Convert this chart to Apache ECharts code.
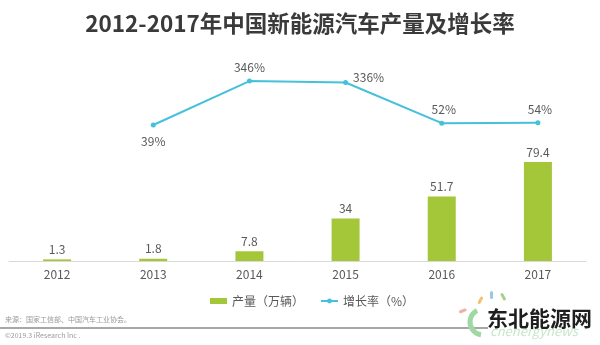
<!DOCTYPE html>
<html><head><meta charset="utf-8">
<script src="https://cdn.jsdelivr.net/npm/echarts@6/dist/echarts.min.js"></script>
<style>html,body{margin:0;padding:0;background:#fff}#c{width:600px;height:345px}</style>
</head><body><div id="c"></div>
<script>
const categories = ['2012','2013','2014','2015','2016','2017'];
const production = [1.3, 1.8, 7.8, 34, 51.7, 79.4];
const growth = [null, 39, 346, 336, 52, 54];
const titleText = '2012-2017年中国新能源汽车产量及增长率';
const prodName = '产量（万辆）';
const growthName = '增长率（%）';
const sourceText = '来源：国家工信部、中国汽车工业协会。';
const copyText = '©2019.3 iResearch Inc .';

const FONT = '"Noto Sans CJK SC", "Noto Sans", sans-serif';
const chart = echarts.init(document.getElementById('c'));
chart.setOption({
  backgroundColor: '#ffffff',
  animation: false,
  textStyle: { fontFamily: FONT },
  title: {
    text: titleText, left: 'center', top: 7,
    textStyle: { fontFamily: FONT, fontSize: 22.5, fontWeight: 'bold', color: '#3a3a3a' }
  },
  legend: {
    left: 205, top: 290, itemGap: 16, itemWidth: 17, itemHeight: 6,
    textStyle: { fontFamily: FONT, fontSize: 12, color: '#595959' },
    data: [
      { name: prodName, icon: 'rect' },
      { name: growthName }
    ]
  },
  grid: [
    { left: 9, right: 14, top: 136.3, bottom: 84 },
    { left: 9, right: 14, top: 73.3, bottom: 214.4 }
  ],
  xAxis: [
    { type: 'category', gridIndex: 0, data: categories,
      axisLine: { lineStyle: { color: '#d9d9d9', width: 1 } },
      axisTick: { show: false },
      axisLabel: { color: '#595959', fontSize: 12, margin: 7, fontFamily: FONT } },
    { type: 'category', gridIndex: 1, data: categories, show: false }
  ],
  yAxis: [
    { type: 'value', gridIndex: 0, min: 0, max: 100, show: false, splitLine: { show: false } },
    { type: 'value', gridIndex: 1, min: 0, max: 400, show: false, splitLine: { show: false } }
  ],
  series: [
    { name: prodName, type: 'bar', xAxisIndex: 0, yAxisIndex: 0, data: production,
      barWidth: 28, itemStyle: { color: '#a4c639' },
      label: { show: true, position: 'top', distance: 4, color: '#595959', fontSize: 12, fontFamily: FONT } },
    { name: growthName, type: 'line', xAxisIndex: 1, yAxisIndex: 1,
      symbol: 'circle', symbolSize: 5, showSymbol: true,
      lineStyle: { color: '#45c1da', width: 2 }, itemStyle: { color: '#45c1da' },
      label: { show: true, position: 'top', distance: 5, color: '#595959', fontSize: 12, fontFamily: FONT,
        formatter: p => p.value + '%' },
      data: growth.map((v, i) => {
        if (i === 1) return { value: v, label: { position: 'bottom', distance: 8 } };
        if (i === 3) return { value: v, label: { position: 'right', offset: [0, -5] } };
        if (i === 4 || i === 5) return { value: v, label: { offset: [2, 0] } };
        return v;
      }) }
  ],
  graphic: [
    { type: 'text', left: 5, top: 316, style: { text: sourceText, fill: '#9a9a9a', fontSize: 7, fontFamily: FONT } },
    { type: 'line', shape: { x1: 0, y1: 328, x2: 488, y2: 328 }, style: { stroke: '#a8a8a8', lineWidth: 2 } },
    { type: 'text', left: 5, top: 332, style: { text: copyText, fill: '#9a9a9a', fontSize: 7, fontFamily: FONT } },
    { type: 'arc', shape: { cx: 483, cy: 322, r: 13, startAngle: Math.PI * 0.55, endAngle: Math.PI * 1.35 },
      style: { stroke: '#9ed8a4', lineWidth: 5, fill: null } },
    { type: 'rect', shape: { x: 0, y: 0, width: 3, height: 8, r: 1.5 }, x: 481, y: 296, rotation: -0.5, style: { fill: '#f3c178' } },
    { type: 'rect', shape: { x: 0, y: 0, width: 3, height: 8, r: 1.5 }, x: 490, y: 291, rotation: 0, style: { fill: '#9ac7e6' } },
    { type: 'rect', shape: { x: 0, y: 0, width: 3, height: 8, r: 1.5 }, x: 500, y: 294, rotation: 0.5, style: { fill: '#a8d08d' } },
    { type: 'rect', shape: { x: 0, y: 0, width: 3, height: 8, r: 1.5 }, x: 466, y: 308, rotation: -1.2, style: { fill: '#f2b0a0' } },
    { type: 'text', left: 490, top: 325, style: { text: 'cnenergynews', fill: '#c6e6cc', fontSize: 13, fontFamily: FONT, fontStyle: 'italic' } },
    { type: 'text', left: 487, top: 308, style: { text: '东北能源网', fill: '#1e1e1e', fontSize: 21, fontFamily: FONT, fontWeight: 'bold' } }
  ]
});
</script></body></html>
